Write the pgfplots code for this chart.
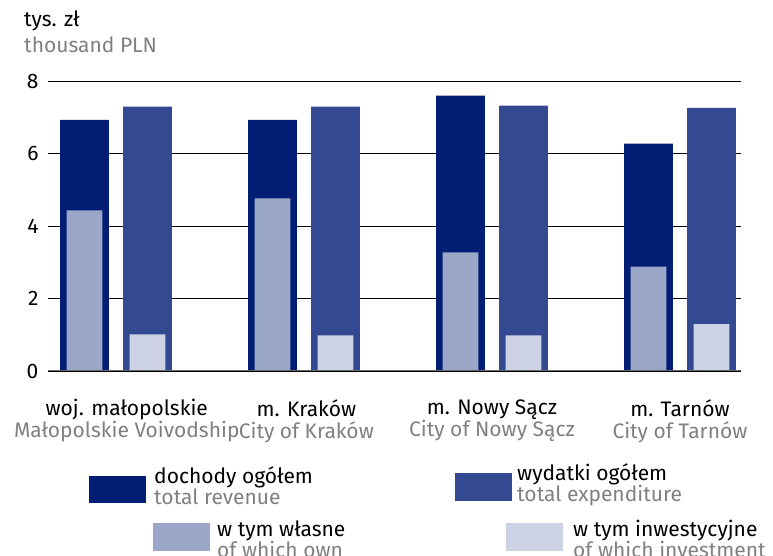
\documentclass[border=0pt]{standalone}
\usepackage{pgfplots}
\pgfplotsset{compat=1.18}
\usepackage{fontspec}
\setmainfont{Fira Sans}
\definecolor{Revenue}{RGB}{1,30,116}
\definecolor{Expend}{RGB}{51,74,146}
\definecolor{Own}{RGB}{154,167,200}
\definecolor{Invest}{RGB}{205,210,228}
\definecolor{SubText}{RGB}{128,128,128}
\definecolor{BaseLine}{RGB}{102,102,102}
\newcommand{\en}[1]{\textcolor{SubText}{#1}}
\begin{document}
\begin{tikzpicture}[x=1pt,y=1pt,font=\fontsize{21}{22}\selectfont]
\useasboundingbox (0,0) rectangle (773,556);

% unit
\node[anchor=base west,inner sep=0] at (24,529) {tys. zł};
\node[anchor=base west,inner sep=0] at (24,503) {\en{thousand PLN}};

\begin{axis}[
    at={(48pt,185pt)}, anchor=south west,
    scale only axis,
    width=693pt, height=290pt,
    xmin=-0.194, xmax=3.492,
    ymin=0, ymax=8,
    ytick={0,2,4,6,8},
    xtick={0.225,1.18,2.1675,3.1675},
    xticklabels={
        {woj. małopolskie\\\en{Małopolskie Voivodship}},
        {m. Kraków\\\en{City of Kraków}},
        {m. Nowy Sącz\\\en{City of Nowy Sącz}},
        {m. Tarnów\\\en{City of Tarnów}}},
    xticklabel style={align=center, yshift=-25pt, font=\fontsize{21}{22}\selectfont},
    yticklabel style={xshift=-6pt, font=\fontsize{21}{22}\selectfont},
    /pgf/number format/assume math mode=true,
    axis line style={draw=none},
    major tick length=0pt,
    ymajorgrids,
    grid style={black, line width=0.9pt},
]

% total revenue and own revenue
\addplot[ybar, bar width=0.26, bar shift=0pt, fill=Revenue, draw=none]
    coordinates {(0,6.93) (1,6.93) (2,7.60) (3,6.27)};
\addplot[ybar, bar width=0.191, bar shift=0pt, fill=Own, draw=none]
    coordinates {(0,4.43) (1,4.76) (2,3.27) (3,2.88)};

% total expenditure and investment expenditure
\addplot[ybar, bar width=0.26, bar shift=0pt, fill=Expend, draw=none]
    coordinates {(0.335,7.29) (1.335,7.29) (2.335,7.32) (3.335,7.26)};
\addplot[ybar, bar width=0.191, bar shift=0pt, fill=Invest, draw=none]
    coordinates {(0.335,1.01) (1.335,0.98) (2.335,0.98) (3.335,1.29)};

\draw[BaseLine, line width=1.5pt] (axis cs:-0.194,0) -- (axis cs:3.492,0);
\end{axis}

% legend
\fill[Revenue] (89,80) rectangle (146,53);
\node[anchor=base west,inner sep=0] at (154,72) {dochody ogółem};
\node[anchor=base west,inner sep=0] at (154,51) {\en{total revenue}};

\fill[Expend] (455,83) rectangle (512,55);
\node[anchor=base west,inner sep=0] at (517,75) {wydatki ogółem};
\node[anchor=base west,inner sep=0] at (517,54) {\en{total expenditure}};

\fill[Own] (153,33) rectangle (210,5);
\node[anchor=base west,inner sep=0] at (217,19) {w tym własne};
\node[anchor=base west,inner sep=0] at (217,-2) {\en{of which own}};

\fill[Invest] (506,33) rectangle (563,5);
\node[anchor=base west,inner sep=0] at (573,19) {w tym inwestycyjne};
\node[anchor=base west,inner sep=0] at (573,-2) {\en{of which investment}};
\end{tikzpicture}
\end{document}
